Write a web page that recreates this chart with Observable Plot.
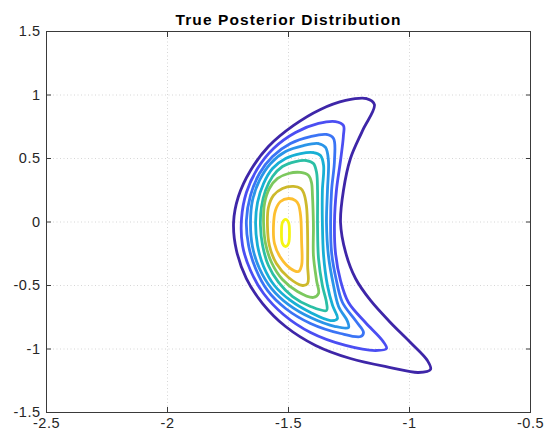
<!DOCTYPE html>
<html><head><meta charset="utf-8">
<script src="https://cdn.jsdelivr.net/npm/d3@7"></script>
<script src="https://cdn.jsdelivr.net/npm/@observablehq/plot@0.6"></script>
<style>html,body{margin:0;padding:0;background:#fff;}</style>
</head><body><div id="chart"></div>
<script>
const title = "True Posterior Distribution";
const xTicks = [-2.5, -2, -1.5, -1, -0.5];
const yTicks = [-1.5, -1, -0.5, 0, 0.5, 1, 1.5];
const levelNames = ["c1","c2","c3","c4","c5","c6","c7","c8","c9","c10"];
const levelColors = ["#3e26a8","#4b4ef2","#3b74f5","#2a95e8","#18b0d4","#2bbfa5","#7cc85e","#cdb92c","#fdbf30","#f5f514"];

const level1 = [[-1.145,0.925],[-1.178,0.972],[-1.264,0.957],[-1.368,0.886],[-1.479,0.760],[-1.583,0.594],[-1.657,0.406],[-1.707,0.201],[-1.727,-0.004],[-1.715,-0.224],[-1.674,-0.445],[-1.607,-0.642],[-1.512,-0.823],[-1.388,-0.972],[-1.244,-1.075],[-1.079,-1.146],[-0.963,-1.185],[-0.913,-1.161],[-0.926,-1.091],[-0.996,-0.949],[-1.079,-0.791],[-1.161,-0.618],[-1.223,-0.445],[-1.264,-0.240],[-1.285,-0.004],[-1.273,0.248],[-1.244,0.500],[-1.194,0.720]];
const level2 = [[-1.273,0.760],[-1.306,0.791],[-1.376,0.776],[-1.471,0.705],[-1.562,0.579],[-1.628,0.421],[-1.674,0.232],[-1.694,0.028],[-1.690,-0.185],[-1.657,-0.382],[-1.603,-0.563],[-1.521,-0.728],[-1.409,-0.870],[-1.264,-0.972],[-1.140,-1.012],[-1.095,-0.996],[-1.112,-0.933],[-1.182,-0.791],[-1.252,-0.634],[-1.285,-0.461],[-1.306,-0.240],[-1.310,-0.004],[-1.302,0.248],[-1.285,0.484],[-1.273,0.681]];
const level3 = [[-1.314,0.657],[-1.343,0.689],[-1.409,0.673],[-1.492,0.618],[-1.566,0.516],[-1.620,0.382],[-1.657,0.209],[-1.674,0.012],[-1.665,-0.185],[-1.636,-0.366],[-1.587,-0.539],[-1.512,-0.681],[-1.409,-0.799],[-1.285,-0.878],[-1.202,-0.902],[-1.190,-0.870],[-1.223,-0.776],[-1.277,-0.634],[-1.302,-0.461],[-1.322,-0.240],[-1.326,-0.004],[-1.322,0.248],[-1.310,0.484]];
const level4 = [[-1.347,0.587],[-1.376,0.618],[-1.438,0.602],[-1.512,0.555],[-1.574,0.461],[-1.620,0.327],[-1.649,0.169],[-1.657,-0.004],[-1.649,-0.193],[-1.620,-0.366],[-1.570,-0.524],[-1.500,-0.650],[-1.409,-0.752],[-1.306,-0.823],[-1.252,-0.831],[-1.256,-0.783],[-1.293,-0.665],[-1.314,-0.500],[-1.335,-0.264],[-1.343,-0.004],[-1.339,0.248],[-1.335,0.484]];
const level5 = [[-1.368,0.524],[-1.397,0.547],[-1.450,0.539],[-1.512,0.500],[-1.566,0.421],[-1.603,0.303],[-1.628,0.154],[-1.636,-0.004],[-1.628,-0.185],[-1.603,-0.350],[-1.558,-0.500],[-1.492,-0.618],[-1.409,-0.713],[-1.326,-0.776],[-1.298,-0.760],[-1.318,-0.657],[-1.339,-0.500],[-1.355,-0.264],[-1.360,-0.004],[-1.360,0.248],[-1.355,0.445]];
const level6 = [[-1.397,0.461],[-1.426,0.484],[-1.471,0.476],[-1.525,0.437],[-1.566,0.358],[-1.595,0.248],[-1.612,0.114],[-1.616,-0.028],[-1.607,-0.185],[-1.583,-0.343],[-1.541,-0.476],[-1.483,-0.587],[-1.409,-0.665],[-1.343,-0.697],[-1.343,-0.634],[-1.360,-0.500],[-1.376,-0.287],[-1.380,-0.028],[-1.380,0.248],[-1.384,0.390]];
const level7 = [[-1.417,0.366],[-1.450,0.390],[-1.500,0.382],[-1.545,0.343],[-1.579,0.264],[-1.599,0.146],[-1.603,-0.004],[-1.595,-0.169],[-1.570,-0.319],[-1.525,-0.453],[-1.463,-0.547],[-1.397,-0.594],[-1.376,-0.563],[-1.384,-0.461],[-1.397,-0.264],[-1.397,-0.028],[-1.401,0.209],[-1.405,0.311]];
const level8 = [[-1.450,0.264],[-1.479,0.280],[-1.525,0.264],[-1.562,0.209],[-1.583,0.114],[-1.587,-0.028],[-1.579,-0.185],[-1.550,-0.327],[-1.500,-0.437],[-1.442,-0.500],[-1.421,-0.484],[-1.421,-0.343],[-1.421,-0.106],[-1.426,0.130],[-1.438,0.232]];
const level9 = [[-1.471,0.169],[-1.500,0.185],[-1.533,0.161],[-1.554,0.091],[-1.562,-0.028],[-1.558,-0.169],[-1.533,-0.280],[-1.492,-0.366],[-1.459,-0.390],[-1.446,-0.343],[-1.446,-0.146],[-1.450,0.051],[-1.459,0.138]];
const level10 = [[-1.512,0.020],[-1.500,-0.004],[-1.496,-0.083],[-1.500,-0.169],[-1.512,-0.193],[-1.525,-0.169],[-1.529,-0.083],[-1.525,-0.004]];

const contours = [level1, level2, level3, level4, level5, level6, level7, level8, level9, level10];
const rows = contours.flatMap((pts, i) => pts.map(([x, y]) => ({x, y, level: levelNames[i]})));
const fmt = d => String(d);
const gridStyle = {stroke: "#d6d6d6", strokeOpacity: 1, strokeDasharray: "1,2.5", strokeWidth: 1};
const tickStyle = {tickSize: 5, fill: "none", label: null, stroke: "#3a3a3a", strokeWidth: 1};

const chart = Plot.plot({
  width: 545, height: 439,
  marginLeft: 46, marginRight: 15, marginTop: 31, marginBottom: 27,
  style: {fontFamily: "'Liberation Sans', Arial, sans-serif", fontSize: "14.5px", letterSpacing: "0.5px", color: "#262626", background: "#fff"},
  x: {domain: [-2.5, -0.5]},
  y: {domain: [-1.5, 1.5]},
  color: {domain: levelNames, range: levelColors},
  marks: [
    Plot.gridX(xTicks, gridStyle),
    Plot.gridY(yTicks, gridStyle),
    Plot.line(rows, {x: "x", y: "y", z: "level", stroke: "level", strokeWidth: 2.8, curve: "catmull-rom-closed"}),
    Plot.frame({stroke: "#3a3a3a", strokeWidth: 1}),
    Plot.axisX(xTicks, {anchor: "bottom", tickSize: 0, tickPadding: 5, tickFormat: fmt, label: null}),
    Plot.axisX(xTicks, {anchor: "bottom", dy: -5, ...tickStyle}),
    Plot.axisX(xTicks, {anchor: "top", dy: 5, ...tickStyle}),
    Plot.axisY(yTicks, {anchor: "left", tickSize: 0, tickPadding: 6, tickFormat: fmt, label: null}),
    Plot.axisY(yTicks, {anchor: "left", dx: 5, ...tickStyle}),
    Plot.axisY(yTicks, {anchor: "right", dx: -5, ...tickStyle}),
    Plot.text([title], {frameAnchor: "top", lineAnchor: "bottom", dy: -7, fontWeight: "bold", fontSize: 15.5, fill: "#000"})
  ]
});
d3.select(chart).selectAll("text").filter(function() { return this.textContent === title; }).style("letter-spacing", "1.1px");
document.getElementById("chart").appendChild(chart);
</script>
</body></html>
